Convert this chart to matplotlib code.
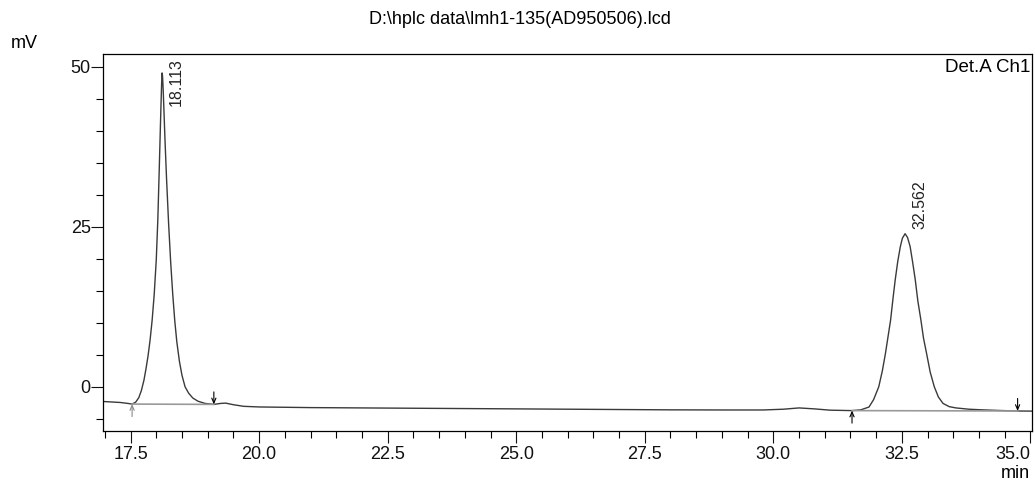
import matplotlib
matplotlib.use('Agg')
from matplotlib import pyplot as plt
from matplotlib.ticker import MultipleLocator, FormatStrFormatter

plt.rcParams['font.family'] = ['Liberation Sans', 'DejaVu Sans']

# detector trace (min, mV)
trace_time = [16.97, 17.15, 17.30, 17.45, 17.53, 17.60, 17.66, 17.71, 17.76, 17.80,
              17.84, 17.88, 17.92, 17.96, 18.00, 18.03, 18.06, 18.08, 18.095, 18.105,
              18.113, 18.122, 18.135, 18.15, 18.17, 18.20, 18.24, 18.28, 18.32, 18.36,
              18.40, 18.45, 18.50, 18.56, 18.63, 18.71, 18.81, 18.95, 19.12, 19.25,
              19.35, 19.50, 19.70, 20.00, 20.50, 21.00, 22.00, 23.00, 24.00, 25.00,
              26.00, 27.00, 28.00, 29.00, 29.80, 30.20, 30.50, 30.80, 31.10, 31.53,
              31.70, 31.86, 31.95, 32.00, 32.05, 32.12, 32.18, 32.23, 32.28, 32.33,
              32.37, 32.42, 32.47, 32.51, 32.562, 32.61, 32.66, 32.71, 32.76, 32.81,
              32.87, 32.92, 32.98, 33.05, 33.13, 33.21, 33.30, 33.42, 33.55, 33.80,
              34.06, 34.40, 34.75, 35.03]
trace_mv = [-2.30, -2.38, -2.45, -2.60, -2.70, -2.40, -1.70, -0.60, 1.00, 2.80,
            4.80, 7.30, 10.40, 14.40, 19.80, 26.00, 34.50, 40.50, 44.80, 47.50,
            49.00, 48.50, 46.30, 43.00, 38.50, 32.50, 25.50, 19.50, 14.50, 10.30,
            7.00, 4.00, 1.80, 0.00, -1.00, -1.75, -2.25, -2.60, -2.75, -2.60,
            -2.55, -2.80, -3.05, -3.15, -3.20, -3.25, -3.30, -3.35, -3.40, -3.45,
            -3.50, -3.55, -3.60, -3.62, -3.62, -3.50, -3.30, -3.45, -3.65, -3.72,
            -3.60, -3.16, -2.00, -1.00, 0.00, 2.50, 5.20, 7.80, 10.40, 14.00,
            16.70, 19.60, 21.90, 23.20, 23.90, 23.30, 21.90, 19.40, 16.70, 13.40,
            10.40, 7.60, 5.20, 2.30, 0.00, -1.60, -2.60, -3.10, -3.30, -3.50,
            -3.60, -3.70, -3.78, -3.80]

# peak table
peak_rt = [18.113, 32.562]
peak_top = [49.0, 23.9]
peak_labels = ['18.113', '32.562']
start_time = [17.53, 31.53]
start_mv = [-2.70, -3.72]
end_time = [19.12, 34.75]
end_mv = [-2.75, -3.78]

fig = plt.figure(figsize=(10.35, 4.83), dpi=100)
ax = fig.add_axes([0.0998, 0.1077, 0.8973, 0.7811])

ax.plot(trace_time, trace_mv, color='#3a3a3a', lw=1.0)

# label offsets in points (as placed by the data system)
label_dy = [-6.5, 21.0]

# integration baselines and start/end marks
for i in range(len(peak_rt)):
    ax.plot([start_time[i], end_time[i]], [start_mv[i], end_mv[i]], color='#9a9a9a', lw=1.2)
    up_col = '#8a8a8a' if i == 0 else 'black'
    ax.annotate('', xy=(start_time[i], start_mv[i]), xytext=(0, -9), textcoords='offset points',
                arrowprops=dict(arrowstyle='->,head_length=0.35,head_width=0.15', color=up_col, lw=0.8,
                                shrinkA=0, shrinkB=0))
    ax.annotate('', xy=(end_time[i], end_mv[i]), xytext=(0, 9), textcoords='offset points',
                arrowprops=dict(arrowstyle='->,head_length=0.35,head_width=0.15', color='black', lw=0.8,
                                shrinkA=0, shrinkB=0))
    ax.annotate(peak_labels[i], xy=(peak_rt[i], peak_top[i]), xytext=(10.5, label_dy[i]),
                textcoords='offset points', rotation=90, ha='center', va='center',
                fontsize=11.5, color='#222222')

ax.set_xlim(16.97, 35.03)
ax.set_ylim(-6.9, 52.0)
ax.xaxis.set_major_locator(MultipleLocator(2.5))
ax.xaxis.set_minor_locator(MultipleLocator(0.5))
ax.yaxis.set_major_locator(MultipleLocator(25))
ax.yaxis.set_minor_locator(MultipleLocator(5))
ax.xaxis.set_major_formatter(FormatStrFormatter('%.1f'))
ax.tick_params(which='major', direction='out', length=8.5, width=0.8, labelsize=13, colors='#111111')
ax.tick_params(which='minor', direction='out', length=4.7, width=0.8)
ax.tick_params(axis='y', which='major', pad=0.5)
ax.tick_params(axis='x', which='major', pad=2.5)
for s in ax.spines.values():
    s.set_linewidth(0.9)

ax.text(0.998, 0.985, 'Det.A Ch1', transform=ax.transAxes, ha='right', va='top', fontsize=13.5)
fig.text(519.5 / 1035, 1 - 20 / 483, r'D:\hplc data\lmh1-135(AD950506).lcd', ha='center', va='center', fontsize=13)
fig.text(24 / 1035, 1 - 44 / 483, 'mV', ha='center', va='center', fontsize=13)
fig.text(1030 / 1035, 1 - 474 / 483, 'min', ha='right', va='center', fontsize=13)

# last time label sits flush right against the frame
fig.canvas.draw()
for lab in ax.get_xticklabels():
    if lab.get_text() == '35.0':
        lab.set_horizontalalignment('right')

fig.savefig('out.png', dpi=100)
